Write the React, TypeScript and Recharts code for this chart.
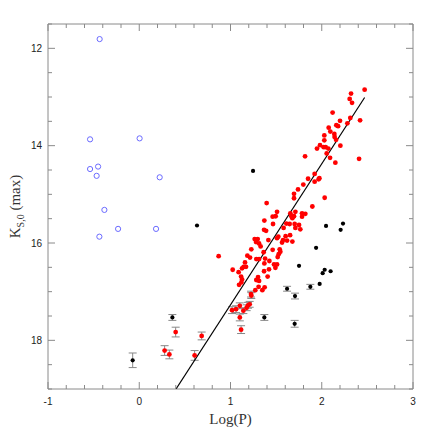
import React from 'react';
import { ScatterChart, Scatter, XAxis, YAxis, ErrorBar } from 'recharts';

// [logP, K_S0(max)]
const redMain: [number, number][] = [
  [2.470, 12.85], [2.321, 12.93], [2.306, 13.04], [2.332, 13.12], [2.119, 13.32], [2.313, 13.43],
  [2.200, 13.49], [2.420, 13.48], [2.281, 13.54], [2.160, 13.58], [2.179, 13.60], [2.076, 13.63],
  [2.094, 13.71], [2.138, 13.76], [2.141, 13.82], [2.028, 13.79], [2.157, 13.88], [2.028, 13.89],
  [1.981, 13.99], [2.204, 14.00], [2.021, 14.03], [2.043, 14.03], [2.072, 14.06], [1.948, 14.06],
  [2.054, 14.16], [2.091, 14.25], [2.409, 14.27], [2.149, 14.35], [1.817, 14.22], [1.922, 14.58],
  [1.974, 14.67], [1.966, 14.69], [1.850, 14.68], [1.922, 14.74], [1.798, 14.80], [1.740, 14.90],
  [1.696, 14.99], [1.696, 15.08], [2.032, 15.07], [1.396, 15.18], [1.897, 15.25], [1.510, 15.36],
  [1.462, 15.46], [1.495, 15.45], [1.656, 15.39], [1.711, 15.36], [1.667, 15.45], [1.696, 15.45],
  [1.678, 15.49], [1.784, 15.39], [1.820, 15.40], [1.784, 15.46], [1.371, 15.54], [1.466, 15.61],
  [1.612, 15.60], [1.648, 15.61], [1.703, 15.61], [1.751, 15.63], [1.711, 15.69], [1.765, 15.72],
  [1.582, 15.69], [1.368, 15.73], [1.390, 15.75], [1.653, 15.84], [1.604, 15.86], [1.524, 15.87],
  [1.510, 15.90], [1.265, 15.92], [1.298, 15.92], [1.280, 15.98], [1.313, 16.01], [1.415, 15.94],
  [1.576, 15.94], [1.620, 15.95], [1.678, 15.97], [1.565, 15.99], [1.330, 16.07], [1.228, 16.13],
  [1.462, 16.14], [1.539, 16.13], [1.546, 16.18], [1.528, 16.23], [1.517, 16.29], [1.363, 16.19],
  [1.185, 16.26], [1.214, 16.30], [1.283, 16.33], [1.313, 16.33], [1.379, 16.32], [1.371, 16.42],
  [1.426, 16.37], [1.159, 16.40], [1.144, 16.49], [1.170, 16.49], [1.127, 16.52], [1.477, 16.44],
  [1.510, 16.44], [1.492, 16.51], [1.024, 16.55], [1.089, 16.60], [1.368, 16.58], [1.422, 16.54],
  [1.116, 16.69], [1.127, 16.75], [1.119, 16.81], [1.302, 16.70], [1.283, 16.76], [1.313, 16.78],
  [1.407, 16.69], [1.094, 16.86], [1.308, 16.90], [1.374, 16.91], [1.272, 16.97], [1.349, 16.97],
  [0.870, 16.27],
];

// [logP, K, error]
const redErr: [number, number, number][] = [
  [0.399, 17.83, 0.10], [0.278, 18.21, 0.10], [0.330, 18.29, 0.09], [0.607, 18.31, 0.10],
  [0.684, 17.91, 0.08], [1.017, 17.38, 0.07], [1.061, 17.36, 0.07], [1.102, 17.53, 0.07],
  [1.102, 17.29, 0.06], [1.141, 17.39, 0.06], [1.177, 17.33, 0.06], [1.192, 17.28, 0.06],
  [1.210, 17.26, 0.06], [1.116, 17.78, 0.08], [1.228, 17.08, 0.06], [1.225, 17.05, 0.06],
];

const blackMain: [number, number][] = [
  [1.247, 14.52], [0.633, 15.64], [2.047, 15.65], [2.233, 15.60], [2.207, 15.73], [1.938, 16.10],
  [1.751, 16.47], [2.032, 16.55], [2.010, 16.62], [2.097, 16.58], [1.977, 16.84],
];

const blackErr: [number, number, number][] = [
  [0.363, 17.53, 0.06], [-0.072, 18.41, 0.15], [1.875, 16.90, 0.05], [1.620, 16.94, 0.05],
  [1.707, 17.09, 0.06], [1.371, 17.53, 0.06], [1.703, 17.66, 0.07],
];

const blueOpen: [number, number][] = [
  [-0.434, 11.81], [-0.539, 13.87], [0.004, 13.85], [-0.539, 14.48], [-0.451, 14.43],
  [-0.467, 14.62], [0.224, 14.65], [-0.382, 15.32], [-0.437, 15.87], [-0.232, 15.71], [0.184, 15.71],
];

const fitLine: [number, number][] = [[0.403, 19.0], [2.47, 13.01]];

const xTicks = [-1, -0.8, -0.6, -0.4, -0.2, 0, 0.2, 0.4, 0.6, 0.8, 1, 1.2, 1.4, 1.6, 1.8, 2, 2.2, 2.4, 2.6, 2.8, 3];
const xLabeled = [-1, 0, 1, 2, 3];
const yTicks = [11.5, 12, 12.5, 13, 13.5, 14, 14.5, 15, 15.5, 16, 16.5, 17, 17.5, 18, 18.5, 19];
const yLabeled = [12, 14, 16, 18];

const toPts = (a: [number, number][]) => a.map(([x, y]) => ({ x, y }));
const toErr = (a: [number, number, number][]) => a.map(([x, y, e]) => ({ x, y, e }));

const AX = '#8a8a8a';
const TICKFONT = '"Liberation Sans", Arial, sans-serif';
const SERIF = '"Liberation Serif", "Times New Roman", serif';

const isLab = (v: number, arr: number[]) => arr.some((a) => Math.abs(a - v) < 1e-6);

const BottomTick = (p: any) => {
  const v = p.payload.value;
  const lab = isLab(v, xLabeled);
  return (
    <g>
      <line x1={p.x} y1={p.y} x2={p.x} y2={p.y - (lab ? 7 : 4)} stroke={AX} strokeWidth={1} />
      {lab && (
        <text x={p.x} y={p.y + 16} textAnchor="middle" fontSize={10} fontFamily={TICKFONT} fill="#222">
          {String(v)}
        </text>
      )}
    </g>
  );
};
const TopTick = (p: any) => {
  const v = p.payload.value;
  const lab = isLab(v, xLabeled);
  return <line x1={p.x} y1={p.y} x2={p.x} y2={p.y + (lab ? 7 : 4)} stroke={AX} strokeWidth={1} />;
};
const LeftTick = (p: any) => {
  const v = p.payload.value;
  const lab = isLab(v, yLabeled);
  return (
    <g>
      <line x1={p.x} y1={p.y} x2={p.x + (lab ? 7 : 4)} y2={p.y} stroke={AX} strokeWidth={1} />
      {lab && (
        <text x={p.x - 6} y={p.y + 3.6} textAnchor="end" fontSize={10} fontFamily={TICKFONT} fill="#222">
          {String(v)}
        </text>
      )}
    </g>
  );
};
const RightTick = (p: any) => {
  const v = p.payload.value;
  const lab = isLab(v, yLabeled);
  return <line x1={p.x} y1={p.y} x2={p.x - (lab ? 7 : 4)} y2={p.y} stroke={AX} strokeWidth={1} />;
};

const XTitle = (p: any) => {
  const vb = p.viewBox || { x: 48, y: 389, width: 365 };
  return (
    <text x={vb.x + vb.width / 2} y={vb.y + 35} textAnchor="middle" fontSize={15} fontFamily={SERIF} fill="#333">
      Log(P)
    </text>
  );
};
const YTitle = (p: any) => {
  const vb = p.viewBox || { x: 0, y: 24, width: 48, height: 365 };
  const cx = vb.x + 20;
  const cy = vb.y + vb.height / 2;
  return (
    <text transform={`translate(${cx},${cy}) rotate(-90)`} textAnchor="middle" fontSize={15} fontFamily={SERIF} fill="#333">
      K
      <tspan fontSize={10} dy={4}>S,0</tspan>
      <tspan dy={-4}> (max)</tspan>
    </text>
  );
};

const RedDot = (p: any) => <circle cx={p.cx} cy={p.cy} r={2.4} fill="#ff0000" />;
const BlackDot = (p: any) => <circle cx={p.cx} cy={p.cy} r={2.1} fill="#000" />;
const BlueRing = (p: any) => <circle cx={p.cx} cy={p.cy} r={2.6} fill="none" stroke="#6b6bff" strokeWidth={1} />;
const NoDot = () => <g />;

export default function App() {
  return (
    <div style={{ position: 'absolute', left: 0, top: 0, width: 436, height: 436, background: '#fff' }}>
      <ScatterChart width={436} height={436} margin={{ top: 0, right: 0, bottom: 0, left: 0 }}>
        <XAxis
          xAxisId="b" type="number" dataKey="x" domain={[-1, 3]} ticks={xTicks} interval={0}
          allowDataOverflow orientation="bottom" height={47} tickSize={0} tickMargin={0} tickLine={false}
          axisLine={{ stroke: AX }} tick={BottomTick} label={<XTitle />}
        />
        <XAxis
          xAxisId="t" type="number" dataKey="x" domain={[-1, 3]} ticks={xTicks} interval={0}
          allowDataOverflow orientation="top" height={24} tickSize={0} tickMargin={0} tickLine={false}
          axisLine={{ stroke: AX }} tick={TopTick}
        />
        <YAxis
          yAxisId="l" type="number" dataKey="y" domain={[11.5, 19]} ticks={yTicks} interval={0} reversed
          allowDataOverflow orientation="left" width={48} tickSize={0} tickMargin={0} tickLine={false}
          axisLine={{ stroke: AX }} tick={LeftTick} label={<YTitle />}
        />
        <YAxis
          yAxisId="r" type="number" dataKey="y" domain={[11.5, 19]} ticks={yTicks} interval={0} reversed
          allowDataOverflow orientation="right" width={23} tickSize={0} tickMargin={0} tickLine={false}
          axisLine={{ stroke: AX }} tick={RightTick}
        />
        <Scatter xAxisId="t" yAxisId="r" data={[]} shape={NoDot} isAnimationActive={false} />
        <Scatter
          xAxisId="b" yAxisId="l" data={toPts(fitLine)} shape={NoDot}
          line={{ stroke: '#000', strokeWidth: 1.2 }} isAnimationActive={false}
        />
        <Scatter xAxisId="b" yAxisId="l" data={toPts(blueOpen)} shape={BlueRing} isAnimationActive={false} />
        <Scatter xAxisId="b" yAxisId="l" data={toErr(blackErr)} shape={BlackDot} isAnimationActive={false}>
          <ErrorBar dataKey="e" direction="y" width={4} stroke="#888" strokeWidth={1} />
        </Scatter>
        <Scatter xAxisId="b" yAxisId="l" data={toPts(blackMain)} shape={BlackDot} isAnimationActive={false} />
        <Scatter xAxisId="b" yAxisId="l" data={toErr(redErr)} shape={RedDot} isAnimationActive={false}>
          <ErrorBar dataKey="e" direction="y" width={4} stroke="#888" strokeWidth={1} />
        </Scatter>
        <Scatter xAxisId="b" yAxisId="l" data={toPts(redMain)} shape={RedDot} isAnimationActive={false} />
      </ScatterChart>
    </div>
  );
}
